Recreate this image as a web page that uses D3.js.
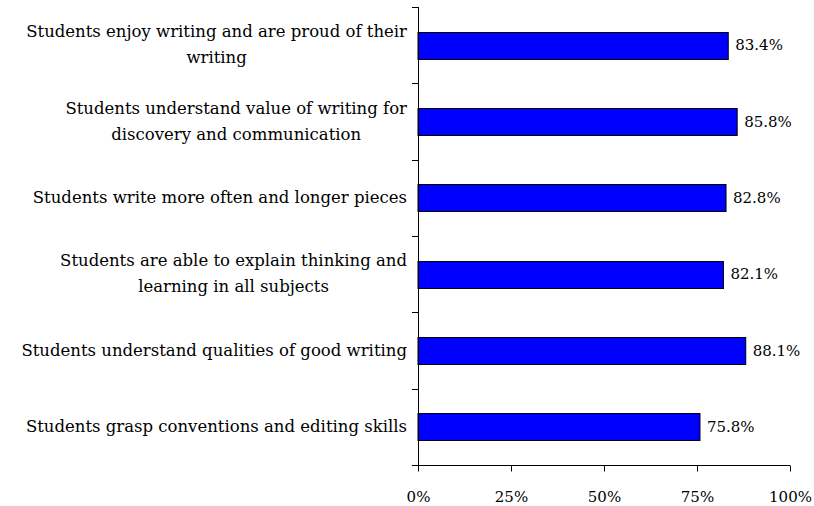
<!DOCTYPE html>
<html>
<head>
<meta charset="utf-8">
<script src="https://cdn.jsdelivr.net/npm/d3@7"></script>
<style>
  body { margin: 0; background: #fff; }
  text { font-family: "DejaVu Serif", serif; fill: #000; }
</style>
</head>
<body>
<script>
// data, top to bottom
const categories = [
  ["Students enjoy writing and are proud of their", "writing"],
  ["Students understand value of writing for", "discovery and communication"],
  ["Students write more often and longer pieces"],
  ["Students are able to explain thinking and", "learning in all subjects"],
  ["Students understand qualities of good writing"],
  ["Students grasp conventions and editing skills"]
];
const values = [83.4, 85.8, 82.8, 82.1, 88.1, 75.8];
const xTicks = [0, 25, 50, 75, 100];

const width = 814, height = 506;
const plot = { left: 418, right: 790, top: 7, bottom: 465 };
const labelRight = 407;

const svg = d3.select(document.body).append('svg')
  .attr('width', width)
  .attr('height', height);

const x = d3.scaleLinear().domain([0, 100]).range([plot.left, plot.right]);
const y = d3.scaleBand()
  .domain(d3.range(categories.length))
  .range([plot.top, plot.bottom])
  .padding(0);

const barH = y.bandwidth() * 0.355;

// bars
svg.selectAll('.bar')
  .data(values)
  .enter().append('rect')
  .attr('class', 'bar')
  .attr('x', x(0))
  .attr('y', (d, i) => Math.round(y(i) + y.bandwidth() / 2 - barH / 2) + 0.5)
  .attr('width', d => x(d) - x(0))
  .attr('height', Math.round(barH))
  .attr('fill', '#0000ff')
  .attr('stroke', '#000')
  .attr('stroke-width', 1);

// value labels
svg.selectAll('.val')
  .data(values)
  .enter().append('text')
  .attr('class', 'val')
  .attr('x', d => x(d) + 7)
  .attr('y', (d, i) => y(i) + y.bandwidth() / 2 + 5)
  .attr('font-size', 15)
  .text(d => d.toFixed(1) + '%');

// y axis: line plus ticks at category boundaries
const yAxis = svg.append('g').attr('class', 'y-axis');
yAxis.append('line')
  .attr('x1', plot.left + 0.5).attr('x2', plot.left + 0.5)
  .attr('y1', plot.top).attr('y2', plot.bottom)
  .attr('stroke', '#000');
yAxis.selectAll('.ytick')
  .data(d3.range(categories.length + 1))
  .enter().append('line')
  .attr('x1', plot.left - 6).attr('x2', plot.left)
  .attr('y1', i => Math.round(plot.top + i * y.step()) + 0.5)
  .attr('y2', i => Math.round(plot.top + i * y.step()) + 0.5)
  .attr('stroke', '#000');

// category labels: lines centred in a box whose right edge sits by the axis
const labels = svg.selectAll('.cat')
  .data(categories)
  .enter().append('text')
  .attr('class', 'cat')
  .attr('font-size', 16.5)
  .attr('text-anchor', 'middle');

labels.each(function(lines, i) {
  const cy = y(i) + y.bandwidth() / 2;
  const lh = 26;
  const y0 = cy + 5 - (lines.length - 1) * lh / 2;
  const spans = d3.select(this).selectAll('tspan')
    .data(lines)
    .enter().append('tspan')
    .attr('y', (d, j) => y0 + j * lh)
    .text(d => d);
  const maxW = d3.max(spans.nodes(), n => n.getComputedTextLength());
  spans.attr('x', labelRight - maxW / 2);
});

// x axis
const xAxis = d3.axisBottom(x)
  .tickValues(xTicks)
  .tickSize(6)
  .tickSizeOuter(0)
  .tickFormat(d => d + '%');

const gx = svg.append('g')
  .attr('transform', `translate(0,${plot.bottom + 0.5})`)
  .call(xAxis);
gx.select('.domain').attr('d', `M${plot.left - 6},0H${plot.right}`);
gx.selectAll('.tick line').attr('stroke', '#000');
gx.selectAll('.tick text')
  .attr('font-family', '"DejaVu Serif", serif')
  .attr('font-size', 15)
  .attr('fill', '#000')
  .attr('dy', null)
  .attr('y', 36);
</script>
</body>
</html>
